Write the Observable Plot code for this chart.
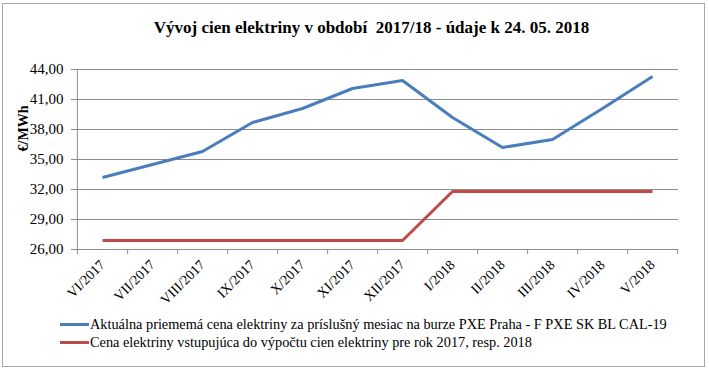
<!DOCTYPE html>
<html>
<head>
<meta charset="utf-8">
<script src="https://cdn.jsdelivr.net/npm/d3@7"></script>
<script src="https://cdn.jsdelivr.net/npm/@observablehq/plot@0.6"></script>
<style>
  html, body { margin: 0; padding: 0; background: #fff; }
  #wrap { position: relative; width: 709px; height: 370px; overflow: hidden; font-family: "Liberation Serif", "Times New Roman", serif; }
  #border { position: absolute; left: 2px; top: 3px; width: 703px; height: 364px; border: 1px solid #a6a6a6; box-sizing: border-box; }
  #title { position: absolute; left: 0; width: 743px; top: 19px; text-align: center; font-weight: bold; font-size: 17px; white-space: pre; color: #000; line-height: 17px; }
  #chart { position: absolute; left: 0; top: 0; }
  #legend { position: absolute; left: 60px; top: 315px; font-size: 14.3px; color: #000; }
  .item { display: flex; align-items: center; height: 18px; white-space: pre; }
  .sw { width: 29px; height: 3px; margin-right: 1px; }
</style>
</head>
<body>
<div id="wrap">
  <div id="border"></div>
  <div id="chart"></div>
  <div id="title"></div>
  <div id="legend"></div>
</div>
<script>
const titleText = "Vývoj cien elektriny v období  2017/18 - údaje k 24. 05. 2018";
const yLabel = "€/MWh";
const months = ["VI/2017","VII/2017","VIII/2017","IX/2017","X/2017","XI/2017","XII/2017","I/2018","II/2018","III/2018","IV/2018","V/2018"];
const marketPrice = [33.2, 34.5, 35.8, 38.7, 40.1, 42.1, 42.9, 39.2, 36.2, 37.0, 40.1, 43.3];
const usedPrice = [26.9, 26.9, 26.9, 26.9, 26.9, 26.9, 26.9, 31.8, 31.8, 31.8, 31.8, 31.8];
const yTicks = [26, 29, 32, 35, 38, 41, 44];
const seriesNames = [
  "Aktuálna priememá cena elektriny za príslušný mesiac na burze PXE Praha - F PXE SK BL CAL-19",
  "Cena elektriny vstupujúca do výpočtu cien elektriny pre rok 2017, resp. 2018"
];
const colors = ["#4a7ebb", "#be4b48"];

const rows = [];
months.forEach((m, i) => {
  rows.push({month: m, value: marketPrice[i], series: seriesNames[0]});
  rows.push({month: m, value: usedPrice[i], series: seriesNames[1]});
});

const W = 709, H = 300, mL = 75, mR = 31, mT = 69, mB = 51;
const step = (W - mL - mR) / months.length;
const fmt = d => d.toFixed(2).replace(".", ",");
const serif = "'Liberation Serif', 'Times New Roman', serif";

const plot = Plot.plot({
  width: W, height: H,
  marginLeft: mL, marginRight: mR, marginTop: mT, marginBottom: mB,
  style: {fontFamily: serif, fontSize: "14px", color: "#000", background: "transparent", overflow: "visible"},
  x: {type: "point", domain: months, padding: 0.5, label: null},
  y: {domain: [26, 44], label: null},
  color: {domain: seriesNames, range: colors},
  marks: [
    Plot.gridY(yTicks, {stroke: "#8c8c8c", strokeOpacity: 1}),
    Plot.ruleX([months[0]], {dx: -step / 2, stroke: "#8c8c8c", insetBottom: -5}),
    Plot.axisY(yTicks, {tickSize: 4, tickPadding: 8, tickFormat: fmt, fontSize: 15, stroke: "#8c8c8c", label: null}),
    Plot.axisX(months, {tickSize: 5, dx: step / 2, tickFormat: () => "", stroke: "#8c8c8c", label: null}),
    Plot.axisX(months, {tickSize: 0, tickPadding: 13, tickRotate: -45, fontSize: 14, label: null}),
    Plot.line(rows, {x: "month", y: "value", z: "series", stroke: "series", strokeWidth: 3, strokeLinejoin: "miter", strokeLinecap: "butt"}),
    Plot.text([yLabel], {frameAnchor: "top-left", textAnchor: "middle", dx: -mL + 18, dy: 59, rotate: -90, fontWeight: "bold", fontSize: 14, text: d => d})
  ]
});
document.getElementById("chart").appendChild(plot);

document.getElementById("title").textContent = titleText;
const legend = document.getElementById("legend");
seriesNames.forEach((name, i) => {
  const item = document.createElement("div");
  item.className = "item";
  const sw = document.createElement("span");
  sw.className = "sw";
  sw.style.background = colors[i];
  const t = document.createElement("span");
  t.textContent = name;
  item.appendChild(sw);
  item.appendChild(t);
  legend.appendChild(item);
});
</script>
</body>
</html>
